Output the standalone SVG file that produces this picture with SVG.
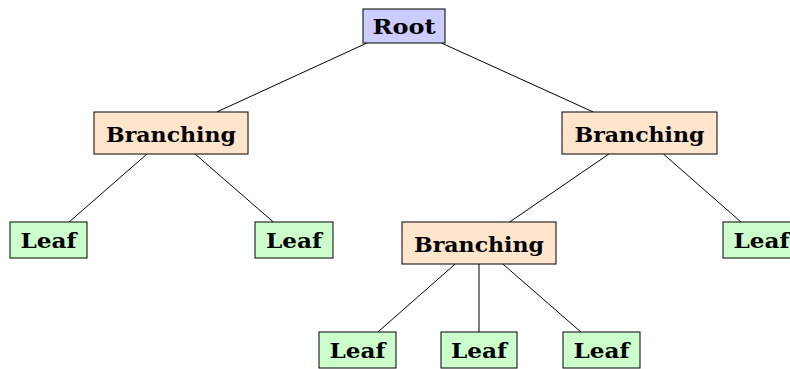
<svg xmlns="http://www.w3.org/2000/svg" width="790" height="369" viewBox="0 0 790 369">
<style>
.n rect{stroke:#000;stroke-width:1}
.root rect{fill:#ccccff}
.br rect{fill:#ffe5cc}
.leaf rect{fill:#ccffcc}
text{font-family:"DejaVu Serif","Liberation Serif",serif;font-weight:bold;font-size:21px;fill:#000;text-anchor:middle}
#edges line{stroke:#000;stroke-width:1}
</style>
<rect width="790" height="369" fill="#fff"/>
<g id="edges">
<line x1="367" y1="43" x2="216.7" y2="112"/>
<line x1="441.4" y1="43" x2="593.3" y2="112"/>
<line x1="147" y1="154" x2="69.1" y2="222"/>
<line x1="195.1" y1="154" x2="273.3" y2="222"/>
<line x1="608.9" y1="154" x2="509.6" y2="222"/>
<line x1="663.4" y1="154" x2="741" y2="222"/>
<line x1="455.2" y1="264" x2="377.9" y2="332"/>
<line x1="479" y1="264" x2="479" y2="332"/>
<line x1="502.8" y1="264" x2="580.9" y2="332"/>
</g>
<g id="root" class="n root"><rect x="363" y="9" width="82" height="34"/><text x="404" y="33.5" textLength="63" lengthAdjust="spacingAndGlyphs">Root</text></g>
<g id="branchL" class="n br"><rect x="94" y="112" width="154" height="42"/><text x="171" y="141.5" textLength="130" lengthAdjust="spacingAndGlyphs">Branching</text></g>
<g id="branchR" class="n br"><rect x="562" y="112" width="155" height="42"/><text x="639.5" y="141.5" textLength="130" lengthAdjust="spacingAndGlyphs">Branching</text></g>
<g id="branchM" class="n br"><rect x="402" y="222" width="154" height="42"/><text x="479" y="251.5" textLength="130" lengthAdjust="spacingAndGlyphs">Branching</text></g>
<g id="leaf1" class="n leaf"><rect x="10" y="222" width="77" height="36"/><text x="48.5" y="247.5" textLength="56" lengthAdjust="spacingAndGlyphs">Leaf</text></g>
<g id="leaf2" class="n leaf"><rect x="255" y="222" width="78" height="36"/><text x="294" y="247.5" textLength="56" lengthAdjust="spacingAndGlyphs">Leaf</text></g>
<g id="leaf3" class="n leaf"><rect x="723" y="222" width="77" height="36"/><text x="761.5" y="247.5" textLength="56" lengthAdjust="spacingAndGlyphs">Leaf</text></g>
<g id="leaf4" class="n leaf"><rect x="319" y="332" width="77" height="36"/><text x="357.5" y="357.5" textLength="56" lengthAdjust="spacingAndGlyphs">Leaf</text></g>
<g id="leaf5" class="n leaf"><rect x="441" y="332" width="76" height="36"/><text x="479" y="357.5" textLength="56" lengthAdjust="spacingAndGlyphs">Leaf</text></g>
<g id="leaf6" class="n leaf"><rect x="563" y="332" width="77" height="36"/><text x="601.5" y="357.5" textLength="56" lengthAdjust="spacingAndGlyphs">Leaf</text></g>
</svg>
